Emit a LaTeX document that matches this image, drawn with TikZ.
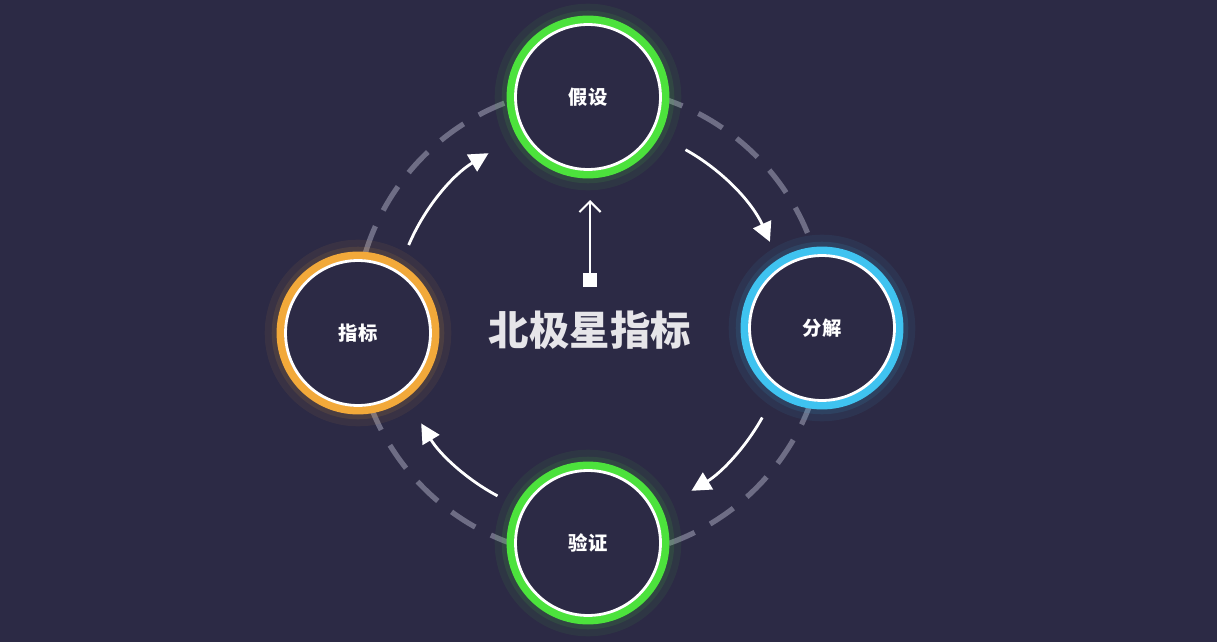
\documentclass[tikz,border=0pt]{standalone}
\usepackage{fontspec}
\newfontfamily\cjk{Noto Sans CJK SC}
\usetikzlibrary{arrows.meta}
\definecolor{bgnavy}{HTML}{2C2A45}
\definecolor{ringgreen}{HTML}{4CE23C}
\definecolor{ringblue}{HTML}{3FC3F0}
\definecolor{ringorange}{HTML}{F2A93A}
\definecolor{dashgray}{HTML}{6E6D85}
\begin{document}
\begin{tikzpicture}[x=0.02cm,y=-0.02cm]
        \tikzstyle{stage} = [circle, minimum size=3.1cm, draw=#1, line width=4.5pt, fill=bgnavy,
            preaction={draw=#1, draw opacity=0.07, line width=18pt},
            preaction={draw=#1, draw opacity=0.1, line width=10pt},
            text=white, font=\cjk\bfseries\fontsize{11}{13}\selectfont]
        \tikzstyle{flow} = [white, line width=1.6pt, -{Triangle[length=11pt,width=11pt]}]

        \fill[bgnavy] (0,0) rectangle (1217,642);
        \coordinate (c) at (590,322);

        % Anillo punteado
        \draw[dashgray, line width=3pt, dash pattern=on 16pt off 10pt] (c) circle (4.7cm);

        % Etapas
        \node[stage=ringgreen](top) at (588,97) {假设};
        \node[stage=ringblue](right) at (822,328) {分解};
        \node[stage=ringgreen](bottom) at (588,543) {验证};
        \node[stage=ringorange](left) at (358,333) {指标};
        \foreach \n in {top,right,bottom,left}
            \draw[white, line width=1.6pt] (\n.center) circle (1.45cm);

        % Flechas del ciclo
        \draw[flow] ([shift={(157:3.94cm)}]c) arc (157:121:3.94cm);
        \draw[flow] ([shift={(61:3.94cm)}]c) arc (61:24:3.94cm);
        \draw[flow] ([shift={(-29:3.94cm)}]c) arc (-29:-59:3.94cm);
        \draw[flow] ([shift={(-118:3.94cm)}]c) arc (-118:-149:3.94cm);

        % Centro
        \node[text=white!88!bgnavy, font=\cjk\bfseries\fontsize{23}{26}\selectfont](star) at (590,330) {北极星指标};
        \node[fill=white, minimum size=8pt, inner sep=0pt](base) at (590,280) {};
        \coordinate (tip) at (590,200);
        \draw[white, line width=1.2pt, -{Straight Barb[length=6pt,width=12pt]}] (base) -- (tip);
\end{tikzpicture}
\end{document}
